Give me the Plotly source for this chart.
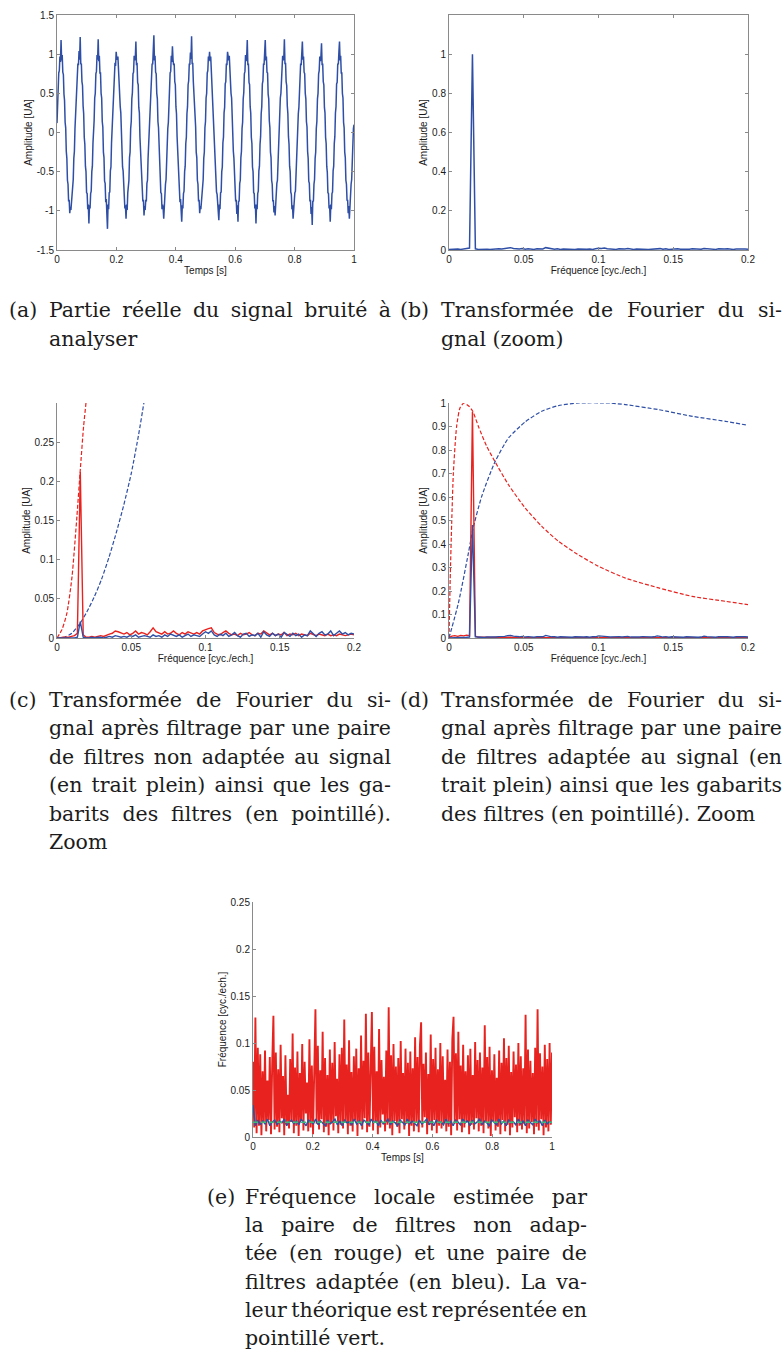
import json
import numpy as np
import plotly.graph_objects as go

W, H = 784, 1354


def px(x):
    return x / W


def py(y):
    return 1 - y / H


BLUE = '#2F4FA6'
RED = '#E8231F'
GREEN = '#3DBB7A'

# (a) noisy signal, real part (32 samples per period)
signal_a = [
    0.12, 0.42, 0.50, 0.76, 0.79, 0.97, 0.90, 1.18, 0.92, 0.99, 0.77, 0.74, 0.49, 0.41, 0.13, 0.06,
    -0.24, -0.33, -0.61, -0.66, -0.88, -0.86, -1.03, -0.95, -0.99, -0.87, -0.86, -0.66, -0.60, -0.33, -0.24, 0.05,
    0.24, 0.33, 0.61, 0.66, 0.88, 0.86, 1.04, 0.93, 1.22, 0.87, 0.88, 0.65, 0.60, 0.34, 0.24, -0.06,
    -0.15, -0.43, -0.50, -0.77, -0.78, -0.98, -0.92, -1.16, -0.93, -0.97, -0.78, -0.75, -0.50, -0.43, -0.14, -0.05,
    0.15, 0.44, 0.50, 0.75, 0.78, 0.99, 0.93, 1.19, 0.91, 0.98, 0.76, 0.76, 0.50, 0.44, 0.14, 0.07,
    -0.25, -0.32, -0.62, -0.65, -0.89, -0.85, -1.05, -1.23, -0.92, -0.98, -0.77, -0.76, -0.49, -0.44, -0.13, 0.06,
    0.25, 0.32, 0.62, 0.65, 0.89, 0.85, 1.03, 0.95, 0.93, 0.97, 0.76, 0.75, 0.61, 0.33, 0.25, -0.05,
    -0.14, -0.44, -0.49, -0.76, -0.79, -0.97, -0.93, -1.10, -0.92, -0.99, -0.77, -0.65, -0.61, -0.32, -0.25, 0.05,
    0.14, 0.43, 0.51, 0.75, 0.77, 0.98, 0.92, 0.96, 1.16, 0.86, 0.89, 0.64, 0.61, 0.32, 0.25, -0.06,
    -0.25, -0.33, -0.61, -0.66, -0.88, -0.86, -1.06, -0.94, -0.99, -0.86, -0.88, -0.65, -0.61, -0.33, -0.14, -0.06,
    0.25, 0.33, 0.61, 0.64, 0.88, 0.87, 1.03, 1.24, 0.92, 0.98, 0.77, 0.75, 0.50, 0.43, 0.14, 0.06,
    -0.15, -0.43, -0.50, -0.77, -0.78, -0.98, -0.92, -0.97, -1.10, -0.87, -0.87, -0.66, -0.60, -0.33, -0.25, 0.05,
    0.13, 0.44, 0.49, 0.76, 0.78, 0.98, 0.90, 1.10, 0.93, 0.86, 0.88, 0.65, 0.61, 0.33, 0.24, -0.05,
    -0.24, -0.32, -0.62, -0.65, -0.89, -0.85, -1.03, -1.14, -0.93, -0.97, -0.78, -0.75, -0.50, -0.43, -0.14, -0.06,
    0.24, 0.33, 0.61, 0.66, 0.87, 0.87, 1.02, 0.94, 1.23, 0.87, 0.89, 0.65, 0.50, 0.43, 0.13, 0.07,
    -0.25, -0.32, -0.61, -0.66, -0.88, -0.86, -1.03, -0.94, -0.98, -0.87, -0.87, -0.66, -0.60, -0.33, -0.25, 0.06,
    0.14, 0.44, 0.50, 0.76, 0.79, 0.97, 0.92, 1.03, 0.91, 0.97, 0.78, 0.75, 0.61, 0.32, 0.25, -0.05,
    -0.15, -0.43, -0.51, -0.76, -0.79, -0.97, -0.93, -1.12, -0.92, -0.98, -0.77, -0.76, -0.50, -0.44, -0.13, -0.06,
    0.25, 0.32, 0.62, 0.65, 0.88, 0.86, 1.03, 0.94, 0.92, 0.98, 0.76, 0.76, 0.50, 0.44, 0.14, 0.06,
    -0.24, -0.33, -0.62, -0.65, -0.88, -0.86, -1.04, -0.93, -1.14, -0.87, -0.88, -0.65, -0.61, -0.32, -0.24, 0.05,
    0.13, 0.43, 0.51, 0.75, 0.78, 0.99, 0.91, 0.96, 1.18, 0.86, 0.88, 0.64, 0.61, 0.33, 0.25, -0.06,
    -0.14, -0.44, -0.50, -0.77, -0.78, -0.97, -0.92, -1.16, -0.92, -0.98, -0.78, -0.75, -0.49, -0.43, -0.15, -0.05,
    0.24, 0.33, 0.62, 0.66, 0.87, 0.87, 1.02, 1.18, 0.92, 0.97, 0.77, 0.76, 0.49, 0.43, 0.15, 0.06,
    -0.25, -0.32, -0.61, -0.66, -0.87, -0.87, -1.02, -0.94, -1.06, -0.86, -0.87, -0.65, -0.61, -0.33, -0.24, 0.06,
    0.15, 0.44, 0.50, 0.76, 0.78, 0.98, 0.92, 0.95, 1.19, 0.87, 0.89, 0.65, 0.60, 0.34, 0.24, -0.05,
    -0.15, -0.43, -0.50, -0.76, -0.79, -0.98, -0.93, -1.10, -0.93, -0.97, -0.77, -0.75, -0.50, -0.44, -0.14, -0.06,
    0.24, 0.32, 0.61, 0.65, 0.88, 0.86, 1.03, 1.16, 0.93, 0.97, 0.77, 0.75, 0.50, 0.43, 0.14, 0.07,
    -0.24, -0.33, -0.62, -0.65, -0.88, -0.86, -1.04, -0.95, -1.18, -0.87, -0.88, -0.66, -0.60, -0.33, -0.25, 0.05,
    0.14, 0.43, 0.50, 0.75, 0.79, 0.97, 0.91, 0.97, 1.14, 0.86, 0.88, 0.65, 0.61, 0.32, 0.25, -0.06,
    -0.14, -0.43, -0.51, -0.77, -0.78, -0.97, -0.93, -1.14, -0.92, -0.98, -0.78, -0.76, -0.49, -0.43, -0.14, -0.05,
    0.25, 0.33, 0.62, 0.64, 0.88, 0.87, 1.03, 1.16, 0.92, 0.98, 0.76, 0.76, 0.50, 0.44, 0.13, 0.06,
    -0.25, -0.32, -0.61, -0.66, -0.87, -0.86, -1.03, -0.94, -1.10, -0.87, -0.87, -0.66, -0.60, -0.33, -0.24, 0.05,
    0.10,
]
t_a = np.linspace(0, 1, len(signal_a))

# (b) spectrum of the signal (zoom 0 - 0.2)
spec_b = [
    0.003, 0.004, 0.002, 0.005, 0.003, 0.006, 0.008, 0.010,
    1.0,
    0.006, 0.003, 0.004, 0.002, 0.004, 0.003, 0.005, 0.004, 0.006, 0.005,
    0.007, 0.011, 0.012, 0.008,
    0.006, 0.005, 0.007, 0.004, 0.006, 0.005, 0.003, 0.006, 0.004, 0.005,
    0.012, 0.009, 0.005,
    0.004, 0.006, 0.003, 0.005, 0.004, 0.006, 0.005, 0.003, 0.005, 0.004, 0.006, 0.004, 0.005, 0.003, 0.006,
    0.009, 0.008, 0.010, 0.006,
    0.004, 0.005, 0.003, 0.006, 0.004, 0.005, 0.007, 0.004, 0.003, 0.005, 0.004, 0.006, 0.005, 0.003, 0.004, 0.005,
    0.009, 0.007,
    0.004, 0.006, 0.003, 0.005, 0.004, 0.006, 0.004, 0.003, 0.005, 0.004, 0.006, 0.005, 0.003, 0.004,
    0.008, 0.006,
    0.004, 0.005, 0.003, 0.006, 0.004, 0.005, 0.006, 0.004, 0.003, 0.005, 0.006, 0.004, 0.005, 0.004,
]
freq = np.linspace(0, 0.2, len(spec_b))

# (c) filtered spectra, non adapted pair
red_c = [
    0.000, 0.000, 0.001, 0.001, 0.001, 0.002, 0.003, 0.006,
    0.212,
    0.004, 0.001, 0.001, 0.002, 0.001, 0.002, 0.003, 0.002, 0.004, 0.005,
    0.006, 0.009, 0.008, 0.006, 0.005, 0.007, 0.004, 0.006, 0.009, 0.005, 0.007, 0.006, 0.004, 0.008,
    0.013, 0.008,
    0.006, 0.005, 0.008, 0.005, 0.006, 0.009, 0.006, 0.004, 0.007, 0.005, 0.008, 0.006, 0.005, 0.007, 0.005, 0.009,
    0.011, 0.012, 0.013, 0.007,
    0.005, 0.004, 0.007, 0.009, 0.006, 0.004, 0.005, 0.003, 0.006, 0.004, 0.005, 0.007, 0.004, 0.003, 0.006, 0.005,
    0.009, 0.006,
    0.004, 0.006, 0.003, 0.005, 0.004, 0.007, 0.003, 0.005, 0.004, 0.006, 0.003, 0.005, 0.004, 0.003,
    0.006, 0.004,
    0.003, 0.005, 0.004, 0.003, 0.005, 0.003, 0.004, 0.003, 0.005, 0.004, 0.003, 0.004, 0.005, 0.004,
]
blue_c = [
    0.000, 0.000, 0.000, 0.000, 0.000, 0.000, 0.000, 0.001,
    0.021,
    0.001, 0.000, 0.000, 0.001, 0.000, 0.001, 0.001, 0.000, 0.001, 0.002,
    0.001, 0.003, 0.002, 0.001, 0.002, 0.001, 0.003, 0.002, 0.004, 0.001, 0.002, 0.003, 0.002, 0.001,
    0.004, 0.002,
    0.003, 0.001, 0.004, 0.002, 0.005, 0.003, 0.002, 0.004, 0.001, 0.003, 0.005, 0.002, 0.004, 0.003, 0.002, 0.005,
    0.008, 0.006, 0.009, 0.004,
    0.002, 0.005, 0.003, 0.006, 0.002, 0.004, 0.007, 0.003, 0.001, 0.005, 0.006, 0.002, 0.004, 0.003, 0.006, 0.001,
    0.008, 0.004,
    0.002, 0.006, 0.003, 0.005, 0.001, 0.007, 0.004, 0.002, 0.006, 0.003, 0.005, 0.001, 0.004, 0.003,
    0.009, 0.005,
    0.002, 0.006, 0.008, 0.004, 0.005, 0.009, 0.003, 0.006, 0.009, 0.005, 0.007, 0.004, 0.006, 0.005,
]
# filter templates (c)
f_red_c = [0, 0.0034, 0.0067, 0.0101, 0.0134, 0.0157, 0.0179, 0.0195, 0.021]
g_red_c = [0, 0.011, 0.032, 0.078, 0.155, 0.215, 0.27, 0.30, 0.335]
f_blue_c = [0, 0.005, 0.01, 0.0156, 0.02, 0.025, 0.03, 0.035, 0.04, 0.045, 0.05, 0.055, 0.0585, 0.062]
g_blue_c = [0, 0.001, 0.006, 0.019, 0.033, 0.052, 0.075, 0.103, 0.135, 0.17, 0.21, 0.26, 0.30, 0.34]

# (d) filtered spectra, adapted pair
red_d = [
    0.002, 0.008, 0.010, 0.007, 0.011, 0.009, 0.012, 0.010,
    0.963,
    0.008, 0.003, 0.004, 0.002, 0.003, 0.002, 0.003, 0.002, 0.003, 0.002,
    0.003, 0.004, 0.003, 0.002, 0.002, 0.003, 0.002, 0.002, 0.003, 0.002, 0.002, 0.002, 0.001, 0.003,
    0.004, 0.002,
    0.002, 0.001, 0.002, 0.002, 0.001, 0.003, 0.002, 0.001, 0.002, 0.001, 0.002, 0.002, 0.001, 0.002, 0.001, 0.002,
    0.003, 0.003, 0.004, 0.002,
    0.001, 0.001, 0.002, 0.002, 0.001, 0.001, 0.002, 0.001, 0.001, 0.002, 0.001, 0.001, 0.002, 0.001, 0.001, 0.001,
    0.002, 0.001,
    0.001, 0.001, 0.001, 0.002, 0.001, 0.001, 0.001, 0.001, 0.001, 0.002, 0.001, 0.001, 0.001, 0.001,
    0.001, 0.001,
    0.001, 0.001, 0.001, 0.001, 0.001, 0.001, 0.001, 0.001, 0.001, 0.001, 0.001, 0.001, 0.001, 0.001,
]
blue_d = [
    0.000, 0.000, 0.001, 0.001, 0.002, 0.002, 0.003, 0.004,
    0.481,
    0.005, 0.003, 0.004, 0.002, 0.004, 0.003, 0.005, 0.004, 0.006, 0.005,
    0.007, 0.010, 0.011, 0.008, 0.006, 0.005, 0.007, 0.004, 0.006, 0.005, 0.003, 0.006, 0.004, 0.005,
    0.011, 0.008,
    0.005, 0.006, 0.003, 0.005, 0.004, 0.006, 0.005, 0.003, 0.005, 0.004, 0.006, 0.004, 0.005, 0.003, 0.006, 0.005,
    0.009, 0.008, 0.010, 0.006,
    0.004, 0.005, 0.003, 0.006, 0.004, 0.005, 0.007, 0.004, 0.003, 0.005, 0.004, 0.006, 0.005, 0.003, 0.004, 0.005,
    0.009, 0.007,
    0.004, 0.006, 0.003, 0.005, 0.004, 0.006, 0.004, 0.003, 0.005, 0.004, 0.006, 0.005, 0.003, 0.004,
    0.008, 0.006,
    0.004, 0.005, 0.003, 0.006, 0.004, 0.005, 0.006, 0.004, 0.003, 0.005, 0.006, 0.004, 0.005, 0.004,
]
f_red_d = [0, 0.0008, 0.0018, 0.0029, 0.0051, 0.0074, 0.01, 0.0134, 0.0159, 0.0197, 0.0252, 0.0308,
           0.0398, 0.051, 0.0621, 0.0733, 0.0845, 0.1, 0.118, 0.1403, 0.1627, 0.185, 0.2]
g_red_d = [0, 0.25, 0.49, 0.70, 0.90, 0.98, 1.0, 0.986, 0.965, 0.90, 0.816, 0.75,
           0.652, 0.553, 0.475, 0.411, 0.362, 0.305, 0.255, 0.213, 0.177, 0.156, 0.142]
f_blue_d = [0, 0.0063, 0.013, 0.0159, 0.0219, 0.0308, 0.0398, 0.051, 0.062, 0.0733, 0.0867,
            0.107, 0.118, 0.14, 0.163, 0.185, 0.2]
g_blue_d = [0, 0.149, 0.362, 0.461, 0.603, 0.75, 0.851, 0.92, 0.965, 0.989, 1.0,
            1.0, 0.993, 0.972, 0.943, 0.922, 0.905]

# (e) local frequency estimates
loc_red = [
    0.080, 0.010, 0.127, 0.004, 0.095, 0.012, 0.088, 0.002, 0.070, 0.015,
    0.092, 0.006, 0.060, 0.018, 0.085, 0.003, 0.078, 0.129, 0.008, 0.090,
    0.011, 0.072, 0.005, 0.098, 0.020, 0.065, 0.002, 0.087, 0.013, 0.045,
    0.009, 0.083, 0.016, 0.110, 0.004, 0.074, 0.012, 0.091, 0.001, 0.068,
    0.017, 0.099, 0.007, 0.080, 0.025, 0.058, 0.006, 0.104, 0.010, 0.076,
    0.003, 0.089, 0.136, 0.014, 0.097, 0.008, 0.071, 0.019, 0.112, 0.005,
    0.084, 0.011, 0.066, 0.002, 0.093, 0.015, 0.079, 0.007, 0.101, 0.022,
    0.062, 0.004, 0.088, 0.013, 0.095, 0.009, 0.125, 0.016, 0.077, 0.003,
    0.103, 0.012, 0.069, 0.006, 0.086, 0.018, 0.094, 0.001, 0.073, 0.014,
    0.108, 0.008, 0.081, 0.020, 0.131, 0.005, 0.090, 0.011, 0.076, 0.133,
    0.007, 0.096, 0.015, 0.070, 0.003, 0.115, 0.010, 0.082, 0.024, 0.064,
    0.006, 0.092, 0.013, 0.138, 0.009, 0.087, 0.002, 0.099, 0.017, 0.075,
    0.011, 0.084, 0.004, 0.102, 0.019, 0.068, 0.008, 0.094, 0.014, 0.079,
    0.001, 0.091, 0.012, 0.073, 0.006, 0.106, 0.016, 0.085, 0.005, 0.097,
    0.122, 0.010, 0.078, 0.021, 0.090, 0.003, 0.067, 0.013, 0.109, 0.007,
    0.083, 0.018, 0.095, 0.004, 0.072, 0.012, 0.100, 0.009, 0.086, 0.015,
    0.061, 0.006, 0.093, 0.011, 0.080, 0.002, 0.104, 0.128, 0.014, 0.089,
    0.007, 0.112, 0.019, 0.076, 0.005, 0.098, 0.010, 0.070, 0.016, 0.087,
    0.003, 0.094, 0.013, 0.066, 0.008, 0.101, 0.020, 0.082, 0.006, 0.090,
    0.012, 0.074, 0.004, 0.119, 0.015, 0.085, 0.009, 0.096, 0.001, 0.071,
    0.017, 0.088, 0.007, 0.063, 0.011, 0.092, 0.003, 0.079, 0.018, 0.105,
    0.006, 0.084, 0.013, 0.097, 0.002, 0.069, 0.010, 0.091, 0.021, 0.077,
    0.005, 0.100, 0.012, 0.086, 0.008, 0.073, 0.014, 0.130, 0.004, 0.093,
    0.009, 0.081, 0.016, 0.068, 0.003, 0.095, 0.011, 0.136, 0.007, 0.089,
    0.019, 0.075, 0.002, 0.098, 0.010, 0.083, 0.006, 0.100, 0.013, 0.090,
]
loc_blue = [
    0.034, 0.012, 0.018, 0.013, 0.017, 0.014, 0.019, 0.012, 0.016, 0.018,
    0.013, 0.017, 0.015, 0.019, 0.012, 0.016, 0.018, 0.014, 0.017, 0.013,
    0.019, 0.015, 0.012, 0.018, 0.016, 0.014, 0.019, 0.013, 0.017, 0.015,
    0.012, 0.018, 0.014, 0.016, 0.019, 0.013, 0.017, 0.012, 0.018, 0.015,
    0.016, 0.013, 0.019, 0.014, 0.017, 0.012, 0.018, 0.016, 0.013, 0.019,
    0.015, 0.017, 0.012, 0.018, 0.014, 0.016, 0.019, 0.013, 0.017, 0.015,
    0.012, 0.018, 0.016, 0.013, 0.019, 0.014, 0.017, 0.015, 0.012, 0.018,
    0.014, 0.016, 0.019, 0.013, 0.017, 0.012, 0.018, 0.015, 0.016, 0.013,
    0.019, 0.014, 0.017, 0.012, 0.018, 0.016, 0.013, 0.019, 0.015, 0.017,
    0.012, 0.018, 0.014, 0.016, 0.019, 0.013, 0.017, 0.015, 0.012, 0.018,
    0.016, 0.013, 0.019, 0.014, 0.017, 0.012, 0.018, 0.015, 0.016, 0.013,
    0.019, 0.014, 0.017, 0.012, 0.018, 0.016, 0.013, 0.019, 0.015, 0.017,
    0.012, 0.018, 0.014, 0.016, 0.015,
]
t_red = np.linspace(0, 1, len(loc_red))
t_blue = np.linspace(0, 1, len(loc_blue))
t_theo = [0, 1]
f_theo = [0.015625, 0.015625]

# captions
captions = {
    'a': ['Partie réelle du signal bruité à', 'analyser'],
    'b': ['Transformée de Fourier du si-', 'gnal (zoom)'],
    'c': ['Transformée de Fourier du si-', 'gnal après filtrage par une paire',
          'de filtres non adaptée au signal', '(en trait plein) ainsi que les ga-',
          'barits des filtres (en pointillé).', 'Zoom'],
    'd': ['Transformée de Fourier du si-', 'gnal après filtrage par une paire',
          'de filtres adaptée au signal (en', 'trait plein) ainsi que les gabarits',
          'des filtres (en pointillé). Zoom'],
    'e': ['Fréquence locale estimée par', 'la paire de filtres non adap-',
          'tée (en rouge) et une paire de', 'filtres adaptée (en bleu). La va-',
          'leur théorique est représentée en', 'pointillé vert.'],
}

fig = go.Figure()

fig.add_trace(go.Scatter(x=t_a, y=signal_a, mode='lines', line=dict(color=BLUE, width=1.5),
                         xaxis='x', yaxis='y'))
fig.add_trace(go.Scatter(x=freq, y=spec_b, mode='lines', line=dict(color=BLUE, width=1.5),
                         xaxis='x2', yaxis='y2'))

dash_line = dict(width=1.2, dash='4px,2px', shape='spline', smoothing=0.6)
fig.add_trace(go.Scatter(x=f_red_c, y=g_red_c, mode='lines', line=dict(color=RED, **dash_line),
                         xaxis='x3', yaxis='y3'))
fig.add_trace(go.Scatter(x=f_blue_c, y=g_blue_c, mode='lines', line=dict(color=BLUE, **dash_line),
                         xaxis='x3', yaxis='y3'))
fig.add_trace(go.Scatter(x=freq, y=red_c, mode='lines', line=dict(color=RED, width=1.4),
                         xaxis='x3', yaxis='y3'))
fig.add_trace(go.Scatter(x=freq, y=blue_c, mode='lines', line=dict(color=BLUE, width=1.4),
                         xaxis='x3', yaxis='y3'))

fig.add_trace(go.Scatter(x=f_red_d, y=g_red_d, mode='lines', line=dict(color=RED, **dash_line),
                         xaxis='x4', yaxis='y4'))
fig.add_trace(go.Scatter(x=f_blue_d, y=g_blue_d, mode='lines', line=dict(color=BLUE, **dash_line),
                         xaxis='x4', yaxis='y4'))
fig.add_trace(go.Scatter(x=freq, y=red_d, mode='lines', line=dict(color=RED, width=1.4),
                         xaxis='x4', yaxis='y4'))
fig.add_trace(go.Scatter(x=freq, y=blue_d, mode='lines', line=dict(color=BLUE, width=1.4),
                         xaxis='x4', yaxis='y4'))

fig.add_trace(go.Scatter(x=t_red, y=loc_red, mode='lines', line=dict(color=RED, width=1.9),
                         xaxis='x5', yaxis='y5'))
fig.add_trace(go.Scatter(x=t_blue, y=loc_blue, mode='lines', line=dict(color=BLUE, width=1.5),
                         xaxis='x5', yaxis='y5'))
fig.add_trace(go.Scatter(x=t_theo, y=f_theo, mode='lines',
                         line=dict(color=GREEN, width=1.4, dash='5px,3px'),
                         xaxis='x5', yaxis='y5'))

TICKFONT = dict(family='Liberation Sans, Arial, sans-serif', size=10, color='#1a1a1a')


def axis(domain, rng, tickvals, ticktext, title, anchor, box=False):
    return dict(
        domain=domain, range=rng, anchor=anchor,
        tickvals=tickvals, ticktext=ticktext,
        showline=True, linecolor='#8a8a8a', linewidth=1,
        mirror='ticks' if box else False,
        ticks='inside', ticklen=3, tickcolor='#8a8a8a',
        showgrid=False, zeroline=False,
        tickfont=TICKFONT, automargin=False,
        title=dict(text=title, font=TICKFONT, standoff=2),
    )


xt_time = [0, 0.2, 0.4, 0.6, 0.8, 1]
xl_time = ['0', '0.2', '0.4', '0.6', '0.8', '1']
xt_freq = [0, 0.05, 0.1, 0.15, 0.2]
xl_freq = ['0', '0.05', '0.1', '0.15', '0.2']

left_x = [px(57), px(354)]
right_x = [px(449), px(748)]
row1 = [py(250), py(15)]
row2 = [py(638), py(403)]

fig.update_layout(
    width=W, height=H,
    margin=dict(l=0, r=0, t=0, b=0),
    paper_bgcolor='white', plot_bgcolor='white',
    showlegend=False,
    xaxis=axis(left_x, [0, 1], xt_time, xl_time, 'Temps [s]', 'y', box=True),
    yaxis=axis(row1, [-1.5, 1.5], [-1.5, -1, -0.5, 0, 0.5, 1, 1.5],
               ['-1.5', '-1', '-0.5', '0', '0.5', '1', '1.5'], 'Amplitude [UA]', 'x', box=True),
    xaxis2=axis(right_x, [0, 0.2], xt_freq, xl_freq, 'Fréquence [cyc./ech.]', 'y2', box=True),
    yaxis2=axis(row1, [0, 1.2], [0, 0.2, 0.4, 0.6, 0.8, 1],
                ['0', '0.2', '0.4', '0.6', '0.8', '1'], 'Amplitude [UA]', 'x2', box=True),
    xaxis3=axis(left_x, [0, 0.2], xt_freq, xl_freq, 'Fréquence [cyc./ech.]', 'y3'),
    yaxis3=axis(row2, [0, 0.3], [0, 0.05, 0.1, 0.15, 0.2, 0.25],
                ['0', '0.05', '0.1', '0.15', '0.2', '0.25'], 'Amplitude [UA]', 'x3'),
    xaxis4=axis(right_x, [0, 0.2], xt_freq, xl_freq, 'Fréquence [cyc./ech.]', 'y4'),
    yaxis4=axis(row2, [0, 1], [0, 0.1, 0.2, 0.3, 0.4, 0.5, 0.6, 0.7, 0.8, 0.9, 1],
                ['0', '0.1', '0.2', '0.3', '0.4', '0.5', '0.6', '0.7', '0.8', '0.9', '1'],
                'Amplitude [UA]', 'x4'),
    xaxis5=axis([px(253), px(552)], [0, 1], xt_time, xl_time, 'Temps [s]', 'y5'),
    yaxis5=axis([py(1137), py(902)], [0, 0.25], [0, 0.05, 0.1, 0.15, 0.2, 0.25],
                ['0', '0.05', '0.1', '0.15', '0.2', '0.25'], 'Fréquence [cyc./ech.]', 'x5'),
)

# captions, one annotation per line; full lines get justified in the page
SERIF = dict(family='DejaVu Serif, serif', size=20.5, color='#1c1c1c')
cap_pos = {
    # label x, text x, right edge, first line y, line step
    'a': (7, 47, 389, 310, 28.5),
    'b': (398, 439, 780, 310, 28.5),
    'c': (7, 47, 389, 700, 28.4),
    'd': (398, 439, 780, 700, 28.4),
    'e': (205, 243, 585, 1197, 28.2),
}
targets = []
for key, lines in captions.items():
    lx, tx, rx, y0, step = cap_pos[key]
    fig.add_annotation(x=px(lx), y=py(y0), xref='paper', yref='paper', text=f'({key})',
                       showarrow=False, xanchor='left', yanchor='middle', align='left', font=SERIF)
    targets.append(None)
    for i, line in enumerate(lines):
        fig.add_annotation(x=px(tx), y=py(y0 + i * step), xref='paper', yref='paper', text=line,
                           showarrow=False, xanchor='left', yanchor='middle', align='left', font=SERIF)
        targets.append(None if i == len(lines) - 1 else rx - tx)

js = """
document.body.style.margin = '0';
var gd = document.getElementById('{plot_id}');
var targets = TARGETS;
for (var i = 0; i < targets.length; i++) {
  if (targets[i] === null) continue;
  var g = gd.querySelector('g.annotation[data-index="' + i + '"]');
  if (!g) continue;
  var t = g.querySelector('text.annotation-text');
  if (!t) continue;
  var n = (t.textContent.match(/[ \\u00a0]/g) || []).length;
  if (!n) continue;
  var len = t.getComputedTextLength();
  t.style.wordSpacing = ((targets[i] - len) / n) + 'px';
}
""".replace('TARGETS', json.dumps(targets))

fig.write_html("out.html", post_script=js, config={'displayModeBar': False})
